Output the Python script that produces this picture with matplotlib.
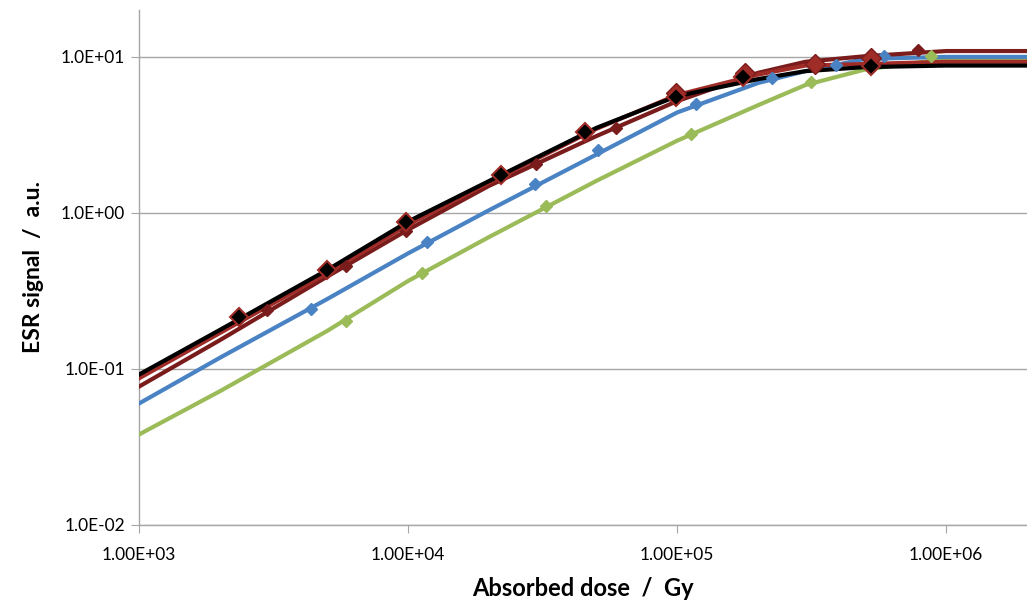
import matplotlib
matplotlib.use('Agg')
import matplotlib.pyplot as plt
from matplotlib.ticker import FixedLocator, FuncFormatter, NullLocator
import numpy as np

plt.rcParams['font.family'] = ['Lato', 'DejaVu Sans']

# fitted curves
dose_fit = [1e3, 2e3, 5e3, 1e4, 2e4, 5e4, 1e5, 2e5, 3e5, 5e5, 1e6, 2e6]
fit_black = [0.092, 0.178, 0.43, 0.88, 1.60, 3.5, 5.6, 7.2, 8.1, 8.6, 8.8, 8.8]
fit_red = [0.087, 0.170, 0.41, 0.84, 1.56, 3.45, 5.7, 7.7, 8.8, 9.0, 9.3, 9.3]
fit_maroon = [0.077, 0.153, 0.39, 0.78, 1.49, 3.1, 5.2, 7.9, 9.3, 10.1, 10.9, 10.9]
fit_blue = [0.060, 0.118, 0.28, 0.55, 1.04, 2.36, 4.4, 6.8, 8.1, 9.7, 10.0, 10.0]
fit_green = [0.038, 0.072, 0.175, 0.366, 0.70, 1.60, 2.9, 4.9, 6.6, 8.3, 9.7, 9.85]

# measured points
black_x = [2350, 4980, 9870, 22200, 45400, 98900, 176600, 527000]
black_y = [0.216, 0.431, 0.876, 1.75, 3.30, 5.55, 7.45, 8.76]
red_x = [99000, 179500, 326500, 527000]
red_y = [5.87, 7.89, 9.02, 9.85]
maroon_x = [2985, 5900, 9870, 29900, 59100, 787000]
maroon_y = [0.239, 0.457, 0.767, 2.06, 3.51, 11.1]
blue_x = [4375, 11800, 29600, 50800, 118000, 226000, 391000, 589000]
blue_y = [0.243, 0.652, 1.53, 2.54, 5.0, 7.33, 8.89, 10.1]
green_x = [5900, 11300, 32600, 113000, 315000, 879000]
green_y = [0.203, 0.412, 1.11, 3.21, 6.92, 10.1]

c_black = '#000000'
c_red = '#A02C28'
c_maroon = '#7A1C1C'
c_blue = '#4A83C4'
c_green = '#9BBB59'

fig = plt.figure(figsize=(10.27, 6.01), dpi=100)
ax = fig.add_axes([0.1353, 0.1265, 0.8647, 0.857])

ax.set_xscale('log')
ax.set_yscale('log')
ax.set_xlim(1e3, 2e6)
ax.set_ylim(1e-2, 20)

lw = 3.0
ax.plot(dose_fit, fit_green, color=c_green, lw=lw, zorder=3)
ax.plot(dose_fit, fit_blue, color=c_blue, lw=lw, zorder=3)
ax.plot(dose_fit, fit_maroon, color=c_maroon, lw=lw, zorder=3)
ax.plot(dose_fit, fit_red, color=c_red, lw=lw, zorder=3)
ax.plot(dose_fit, fit_black, color=c_black, lw=lw, zorder=3)

ax.plot(green_x, green_y, 'D', color=c_green, ms=6.5, zorder=4)
ax.plot(blue_x, blue_y, 'D', color=c_blue, ms=6.5, zorder=4)
ax.plot(maroon_x, maroon_y, 'D', color=c_maroon, ms=6.5, zorder=4)
ax.plot(red_x, red_y, 'D', color=c_red, mec=c_maroon, ms=10, zorder=5)
ax.plot(black_x, black_y, 'D', color=c_black, mec=c_red, mew=1.5, ms=9, zorder=6)

ax.xaxis.set_major_locator(FixedLocator([1e3, 1e4, 1e5, 1e6]))
ax.yaxis.set_major_locator(FixedLocator([1e-2, 1e-1, 1e0, 1e1]))
ax.xaxis.set_minor_locator(NullLocator())
ax.yaxis.set_minor_locator(NullLocator())


def fmt_x(v, pos):
    e = int(round(np.log10(v)))
    return '1.00E%s%02d' % ('+' if e >= 0 else '-', abs(e))


def fmt_y(v, pos):
    e = int(round(np.log10(v)))
    return '1.0E%s%02d' % ('+' if e >= 0 else '-', abs(e))


ax.xaxis.set_major_formatter(FuncFormatter(fmt_x))
ax.yaxis.set_major_formatter(FuncFormatter(fmt_y))

ax.grid(axis='y', color='#A6A6A6', lw=1.0)
for s in ('top', 'right'):
    ax.spines[s].set_visible(False)
for s in ('left', 'bottom'):
    ax.spines[s].set_color('#A6A6A6')
    ax.spines[s].set_linewidth(1.0)
ax.tick_params(axis='both', direction='out', length=6, color='#A6A6A6',
               labelsize=12.5, labelcolor='#000000')
ax.tick_params(axis='x', pad=10)
ax.tick_params(axis='y', pad=4)

ax.set_xlabel('Absorbed dose  /  Gy', fontsize=17, fontweight='bold', labelpad=10)
ax.set_ylabel('ESR signal  /  a.u.', fontsize=16.5, fontweight='bold', labelpad=12)

plt.savefig('out.png', dpi=100, facecolor='white')
plt.close()
